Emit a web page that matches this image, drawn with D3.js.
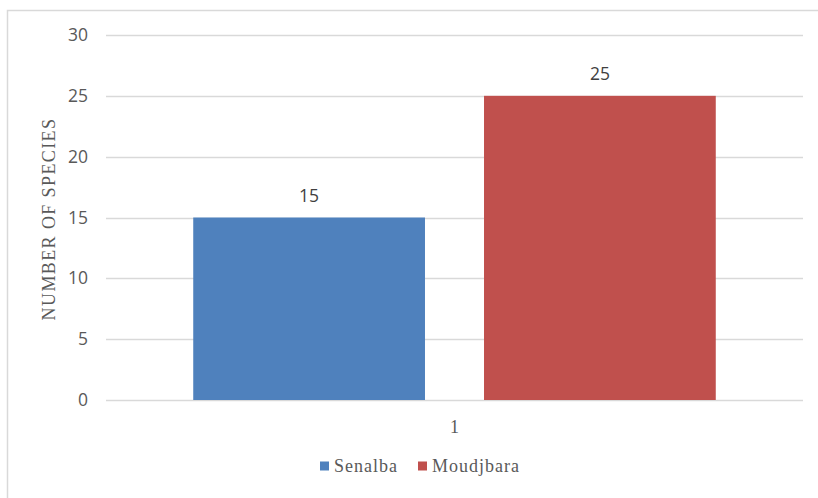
<!DOCTYPE html>
<html>
<head>
<meta charset="utf-8">
<script src="https://cdn.jsdelivr.net/npm/d3@7"></script>
<style>
body { margin: 0; background: #fff; }
</style>
</head>
<body>
<script>
var categories = ["1"];
var seriesNames = ["Senalba", "Moudjbara"];
var seriesValues = [15, 25];
var seriesColors = ["#4F81BD", "#C0504D"];
var yTicks = [0, 5, 10, 15, 20, 25, 30];

var width = 818, height = 498;

var svg = d3.select("body")
    .append("svg")
    .attr("width", width)
    .attr("height", height);

// outer chart frame (cropped at right and bottom)
svg.append("rect")
    .attr("x", 7.5)
    .attr("y", 10.5)
    .attr("width", 830)
    .attr("height", 500)
    .attr("fill", "#fff")
    .attr("stroke", "#D9D9D9")
    .attr("stroke-width", 1.5);

var plotLeft = 106, plotRight = 803;

var y = d3.scaleLinear()
    .domain([0, 30])
    .range([400, 35]);

var x0 = d3.scaleBand()
    .domain(categories)
    .range([plotLeft, plotRight]);

var x1 = d3.scaleBand()
    .domain(seriesNames)
    .range([0, x0.bandwidth()])
    .paddingInner(0.203)
    .paddingOuter(0.3);

// gridlines
svg.append("g")
    .selectAll("line")
    .data(yTicks)
    .enter().append("line")
    .attr("x1", plotLeft)
    .attr("x2", plotRight)
    .attr("y1", function (d) { return Math.round(y(d)) + 0.5; })
    .attr("y2", function (d) { return Math.round(y(d)) + 0.5; })
    .attr("stroke", "#D9D9D9")
    .attr("stroke-width", 1.5);

// y tick labels
svg.append("g")
    .selectAll("text")
    .data(yTicks)
    .enter().append("text")
    .attr("x", 88)
    .attr("y", function (d) { return y(d); })
    .attr("dy", "0.35em")
    .attr("text-anchor", "end")
    .attr("font-family", "'Open Sans', sans-serif")
    .attr("font-size", 17.5)
    .attr("fill", "#595959")
    .text(function (d) { return d; });

// bars
var bars = svg.append("g")
    .attr("transform", "translate(" + x0(categories[0]) + ",0)");

bars.selectAll("rect")
    .data(seriesValues)
    .enter().append("rect")
    .attr("x", function (d, i) { return x1(seriesNames[i]); })
    .attr("y", function (d) { return y(d); })
    .attr("width", x1.bandwidth())
    .attr("height", function (d) { return y(0) - y(d); })
    .attr("fill", function (d, i) { return seriesColors[i]; });

// data labels
bars.selectAll("text")
    .data(seriesValues)
    .enter().append("text")
    .attr("x", function (d, i) { return x1(seriesNames[i]) + x1.bandwidth() / 2; })
    .attr("y", function (d) { return y(d) - 22; })
    .attr("dy", "0.35em")
    .attr("text-anchor", "middle")
    .attr("font-family", "'Open Sans', sans-serif")
    .attr("font-size", 17.5)
    .attr("fill", "#404040")
    .text(function (d) { return d; });

// category label
svg.append("text")
    .attr("x", x0(categories[0]) + x0.bandwidth() / 2)
    .attr("y", 427)
    .attr("dy", "0.35em")
    .attr("text-anchor", "middle")
    .attr("font-family", "'Liberation Serif', serif")
    .attr("font-size", 18)
    .attr("fill", "#595959")
    .text(categories[0]);

// y axis title
svg.append("text")
    .attr("transform", "translate(49,219) rotate(-90)")
    .attr("dy", "0.35em")
    .attr("text-anchor", "middle")
    .attr("font-family", "'Liberation Serif', serif")
    .attr("font-size", 18)
    .attr("letter-spacing", 1.4)
    .attr("fill", "#595959")
    .text("NUMBER OF SPECIES");

// legend
var legendX = [320, 418];
var legend = svg.append("g")
    .selectAll("g")
    .data(seriesNames)
    .enter().append("g")
    .attr("transform", function (d, i) { return "translate(" + legendX[i] + ",466)"; });

legend.append("rect")
    .attr("x", 0)
    .attr("y", -4.5)
    .attr("width", 9)
    .attr("height", 9)
    .attr("fill", function (d, i) { return seriesColors[i]; });

legend.append("text")
    .attr("x", 14)
    .attr("y", 0)
    .attr("dy", "0.35em")
    .attr("font-family", "'Liberation Serif', serif")
    .attr("font-size", 18)
    .attr("letter-spacing", 1)
    .attr("fill", "#595959")
    .text(function (d) { return d; });
</script>
</body>
</html>
